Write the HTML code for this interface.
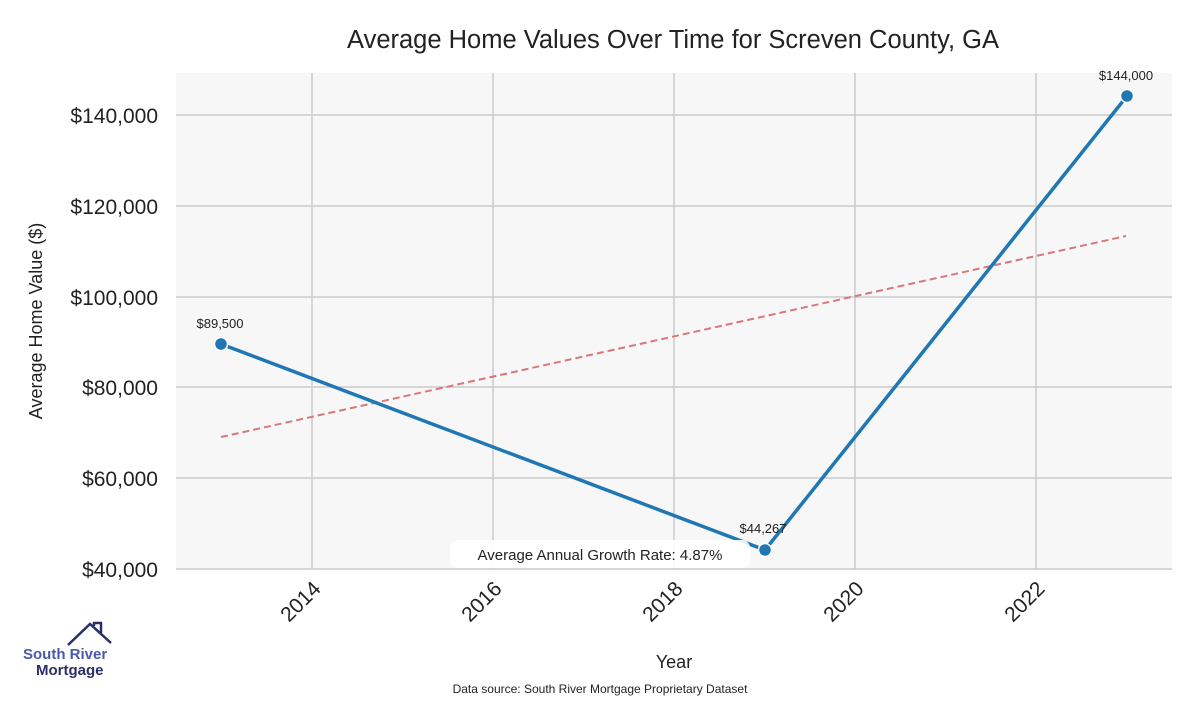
<!DOCTYPE html>
<html><head><style>body{margin:0;background:#fff;width:1200px;height:700px;overflow:hidden}</style></head><body>
<svg width="1200" height="700" xmlns="http://www.w3.org/2000/svg" font-family="Liberation Sans, sans-serif">
<rect x="176" y="73" width="996" height="496" fill="#f7f7f7"/>
<g stroke="#cccccc" stroke-width="1.5">
<line x1="312" y1="73" x2="312" y2="569"/><line x1="493" y1="73" x2="493" y2="569"/><line x1="674" y1="73" x2="674" y2="569"/><line x1="855" y1="73" x2="855" y2="569"/><line x1="1036" y1="73" x2="1036" y2="569"/>
<line x1="176" y1="115" x2="1172" y2="115"/><line x1="176" y1="206" x2="1172" y2="206"/><line x1="176" y1="297" x2="1172" y2="297"/><line x1="176" y1="387" x2="1172" y2="387"/><line x1="176" y1="478" x2="1172" y2="478"/><line x1="176" y1="569" x2="1172" y2="569"/>
</g>
<g font-size="21" fill="#222" text-anchor="end">
<text x="158" y="123">$140,000</text><text x="158" y="214">$120,000</text><text x="158" y="305">$100,000</text><text x="158" y="395">$80,000</text><text x="158" y="486">$60,000</text><text x="158" y="577">$40,000</text>
</g>
<g font-size="21" fill="#222" text-anchor="end">
<text transform="translate(322,590) rotate(-45)">2014</text><text transform="translate(503,590) rotate(-45)">2016</text><text transform="translate(684,590) rotate(-45)">2018</text><text transform="translate(865,590) rotate(-45)">2020</text><text transform="translate(1046,590) rotate(-45)">2022</text>
</g>
<text x="673" y="48" font-size="25.5" text-anchor="middle" fill="#222">Average Home Values Over Time for Screven County, GA</text>
<text x="674" y="668" font-size="18" text-anchor="middle" fill="#222">Year</text>
<text transform="translate(42,321) rotate(-90)" font-size="18" text-anchor="middle" fill="#222">Average Home Value ($)</text>
<line x1="221" y1="437" x2="1126" y2="236" stroke="#d9777a" stroke-width="2" stroke-dasharray="7,4"/>
<polyline points="221,344 765,550 1127,96" fill="none" stroke="#1f77b4" stroke-width="3.5"/>
<g fill="#1f77b4" stroke="#fff" stroke-width="1.5"><circle cx="221" cy="344" r="6.5"/><circle cx="765" cy="550" r="6.5"/><circle cx="1127" cy="96" r="6.5"/></g>
<g font-size="13" fill="#222" text-anchor="middle"><text x="220" y="328">$89,500</text><text x="763" y="533">$44,267</text><text x="1126" y="80">$144,000</text></g>
<rect x="450" y="540" width="300" height="28" rx="8" fill="#fff" opacity="0.9"/>
<text x="600" y="560" font-size="15" text-anchor="middle" fill="#222">Average Annual Growth Rate: 4.87%</text>
<text x="600" y="693" font-size="12" text-anchor="middle" fill="#222">Data source: South River Mortgage Proprietary Dataset</text>
<polyline points="68,645 90,624 111,643" fill="none" stroke="#2a2f66" stroke-width="2.5"/>
<polyline points="94,626 94,623 101,623 101,633" fill="none" stroke="#2a2f66" stroke-width="2.5"/>
<text x="23" y="659" font-size="15" font-weight="bold" fill="#4a5aa8">South River</text>
<text x="36" y="675" font-size="15" font-weight="bold" fill="#2a2f66">Mortgage</text>
</svg>
</body></html>
